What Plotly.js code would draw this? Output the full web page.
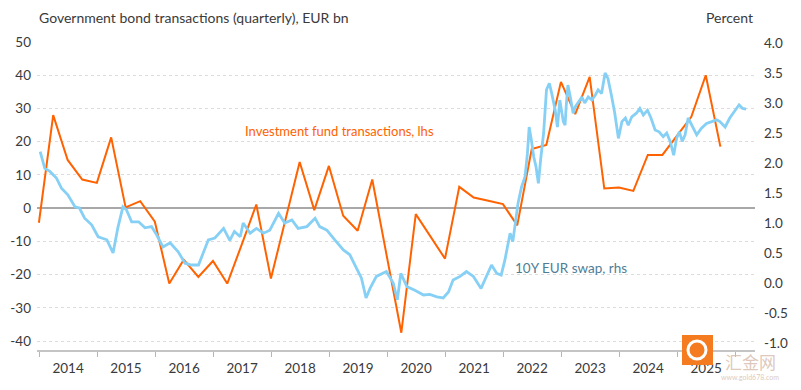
<!DOCTYPE html>
<html>
<head>
<meta charset="utf-8">
<script src="https://cdn.plot.ly/plotly-3.0.1.min.js"></script>
<style>html,body{margin:0;padding:0;background:#fff}#chart{width:801px;height:390px}</style>
</head>
<body>
<div id="chart"></div>
<script>
// Investment fund government bond transactions (quarterly, EUR bn) - lhs
const fundDates = [
  '2013-12-31','2014-03-31','2014-06-30','2014-09-30','2014-12-31','2015-03-31','2015-06-30','2015-09-30',
  '2015-12-31','2016-03-31','2016-06-30','2016-09-30','2016-12-31','2017-03-31','2017-06-30','2017-09-30',
  '2017-12-31','2018-03-31','2018-06-30','2018-09-30','2018-12-31','2019-03-31','2019-06-30','2019-09-30',
  '2019-12-31','2020-03-31','2020-06-30','2020-09-30','2020-12-31','2021-03-31','2021-06-30','2021-09-30',
  '2021-12-31','2022-03-31','2022-06-30','2022-09-30','2022-12-31','2023-03-31','2023-06-30','2023-09-30',
  '2023-12-31','2024-03-31','2024-06-30','2024-09-30','2024-12-31','2025-03-31','2025-06-30','2025-09-30'
];
const fundValues = [
  -4.4, 28.0, 14.5, 8.6, 7.6, 21.3, 0.2, 2.1,
  -4.1, -22.7, -15.5, -20.7, -15.9, -22.7, -11.0, 1.1,
  -21.2, -3.6, 13.9, -0.6, 12.7, -2.3, -6.8, 8.6,
  -14.2, -37.5, -1.8, -8.5, -15.2, 6.4, 3.2, 2.2,
  1.2, -5.2, 17.8, 19.0, 38.0, 28.3, 39.5, 5.9,
  6.2, 5.2, 16.0, 16.0, 21.8, 27.5, 40.0, 18.5
];

// 10Y EUR swap rate (percent) - rhs
const swapDates = [
  '2014-01-08','2014-02-06','2014-03-10','2014-04-20','2014-05-22','2014-07-01','2014-08-15','2014-09-12',
  '2014-10-15','2014-11-28','2015-01-08','2015-03-04','2015-04-12','2015-05-12','2015-06-13','2015-07-05',
  '2015-08-07','2015-09-20','2015-10-30','2015-12-10','2016-01-12','2016-02-20','2016-04-05','2016-05-26',
  '2016-07-08','2016-08-18','2016-10-01','2016-10-30','2016-12-02','2017-01-12','2017-03-08','2017-04-16',
  '2017-05-15','2017-06-21','2017-07-09','2017-08-22','2017-10-01','2017-11-14','2017-12-24','2018-02-17',
  '2018-03-28','2018-05-12','2018-06-20','2018-08-14','2018-10-05','2018-11-03','2018-12-18','2019-02-06',
  '2019-04-01','2019-05-12','2019-06-25','2019-07-24','2019-08-22','2019-09-16','2019-10-26','2019-12-28',
  '2020-02-09','2020-03-06','2020-03-28','2020-05-05','2020-06-24','2020-08-18','2020-09-27','2020-11-10',
  '2020-12-20','2021-01-22','2021-02-20','2021-04-05','2021-05-15','2021-06-28','2021-08-15','2021-09-20',
  '2021-10-20','2021-11-22','2021-12-20','2022-01-12','2022-02-14','2022-03-03','2022-03-14','2022-04-05',
  '2022-04-27','2022-05-19','2022-06-03','2022-06-14','2022-06-28','2022-07-13','2022-07-27','2022-08-11',
  '2022-08-25','2022-09-13','2022-10-01','2022-10-19','2022-11-03','2022-11-25','2022-12-09','2022-12-24',
  '2023-01-15','2023-01-26','2023-02-02','2023-02-13','2023-02-28','2023-03-18','2023-04-01','2023-05-12',
  '2023-05-30','2023-06-21','2023-07-13','2023-08-04','2023-08-22','2023-09-13','2023-10-05','2023-10-23',
  '2023-11-14','2023-12-05','2023-12-28','2024-01-19','2024-02-10','2024-02-28','2024-03-21','2024-04-19',
  '2024-05-11','2024-06-02','2024-06-28','2024-07-20','2024-08-15','2024-09-09','2024-10-05','2024-10-27',
  '2024-11-18','2024-12-10','2024-12-28','2025-01-15','2025-02-02','2025-02-20','2025-03-11','2025-04-01',
  '2025-05-04','2025-06-03','2025-07-05','2025-08-07','2025-09-06','2025-09-27','2025-10-30','2025-11-28',
  '2026-01-26','2026-02-17','2026-03-11'
];
const swapValues = [
  2.19, 1.91, 1.86, 1.75, 1.58, 1.47, 1.27, 1.25,
  1.08, 0.97, 0.77, 0.72, 0.50, 0.92, 1.27, 1.22,
  1.02, 1.02, 0.92, 0.94, 0.80, 0.60, 0.67, 0.52,
  0.33, 0.30, 0.30, 0.50, 0.72, 0.75, 0.91, 0.71,
  0.86, 0.77, 1.00, 0.83, 0.91, 0.83, 0.88, 1.16,
  1.00, 1.05, 0.91, 0.94, 1.08, 0.94, 0.88, 0.72,
  0.55, 0.47, 0.22, 0.08, -0.25, -0.09, 0.11, 0.19,
  0.00, -0.28, 0.16, -0.06, -0.12, -0.20, -0.19, -0.23,
  -0.25, -0.15, 0.05, 0.11, 0.19, 0.11, -0.09, 0.11,
  0.30, 0.16, 0.13, 0.38, 0.83, 0.69, 0.88, 1.33,
  1.60, 1.77, 2.16, 2.60, 2.38, 2.10, 1.94, 1.66,
  2.05, 2.50, 3.22, 3.33, 3.16, 2.88, 2.60, 3.05,
  2.69, 2.63, 2.94, 3.30, 3.10, 2.83, 2.94, 3.10,
  3.00, 3.10, 3.05, 3.13, 3.22, 3.16, 3.50, 3.41,
  3.13, 2.83, 2.41, 2.69, 2.75, 2.63, 2.77, 2.83,
  2.91, 2.80, 2.88, 2.75, 2.55, 2.52, 2.44, 2.50,
  2.36, 2.13, 2.41, 2.52, 2.36, 2.47, 2.75, 2.63,
  2.47, 2.58, 2.66, 2.69, 2.72, 2.69, 2.60, 2.75,
  2.97, 2.91, 2.90
];

const leftTicks = [-40, -30, -20, -10, 0, 10, 20, 30, 40, 50];
const rightTicks = [-1.0, -0.5, 0.0, 0.5, 1.0, 1.5, 2.0, 2.5, 3.0, 3.5, 4.0];

const leftTitle = 'Government bond transactions (quarterly), EUR bn';
const rightTitle = 'Percent';
const fundLabel = 'Investment fund transactions, lhs';
const swapLabel = '10Y EUR swap, rhs';

const FONT = 'Lato, "Open Sans", sans-serif';
const ORANGE = '#FF6200';
const BLUE = '#86D0F5';

const traces = [
  {
    x: swapDates, y: swapValues, yaxis: 'y2', type: 'scatter', mode: 'lines',
    line: {color: BLUE, width: 2.8}, hoverinfo: 'skip', showlegend: false
  },
  {
    x: fundDates, y: fundValues, yaxis: 'y', type: 'scatter', mode: 'lines',
    line: {color: ORANGE, width: 2}, hoverinfo: 'skip', showlegend: false
  }
];

const layout = {
  width: 801, height: 390,
  margin: {l: 37, r: 46, t: 42, b: 40, pad: 0},
  paper_bgcolor: '#ffffff', plot_bgcolor: '#ffffff',
  font: {family: FONT, size: 13, color: '#3a3a3a'},
  showlegend: false,
  xaxis: {
    type: 'date',
    range: ['2013-12-19', '2026-05-06'],
    tick0: '2014-01-01', dtick: 'M12',
    ticklabelmode: 'period',
    tickformat: '%Y',
    ticks: 'outside', ticklen: 5, tickwidth: 1, tickcolor: '#b5b5b5',
    showline: true, linecolor: '#c4c4c4', linewidth: 2,
    showgrid: false, zeroline: false,
    tickfont: {family: FONT, size: 13.5, color: '#3a3a3a'}
  },
  yaxis: {
    range: [-42.7, 50],
    tickvals: leftTicks,
    ticktext: leftTicks.map(String),
    showgrid: true, gridcolor: '#dcdcdc', griddash: 'dot', gridwidth: 1,
    zeroline: true, zerolinecolor: '#a8a8a8', zerolinewidth: 1.5,
    showline: false, ticks: '', ticklabelstandoff: 5,
    tickfont: {family: FONT, size: 13.5, color: '#3a3a3a'}
  },
  yaxis2: {
    overlaying: 'y', side: 'right',
    range: [-1.117, 4.017],
    tickvals: rightTicks,
    ticktext: rightTicks.map(v => v.toFixed(1)),
    showgrid: false, zeroline: false, showline: false, ticks: '', ticklabelstandoff: 8,
    tickfont: {family: FONT, size: 13.5, color: '#3a3a3a'}
  },
  annotations: [
    {text: leftTitle, xref: 'paper', yref: 'paper', x: 0.0, y: (350 - 18) / 308, xanchor: 'left', yanchor: 'middle',
     showarrow: false, font: {family: FONT, size: 14, color: '#3a3a3a'}},
    {text: rightTitle, xref: 'paper', yref: 'paper', x: 1.0, y: (350 - 18) / 308, xanchor: 'right', yanchor: 'middle',
     showarrow: false, font: {family: FONT, size: 14, color: '#3a3a3a'}},
    {text: fundLabel, xref: 'x', yref: 'y', x: '2017-07-08', y: 23.2, xanchor: 'left', yanchor: 'middle',
     showarrow: false, font: {family: FONT, size: 13, color: ORANGE}},
    {text: swapLabel, xref: 'x', yref: 'y', x: '2022-03-03', y: -18.0, xanchor: 'left', yanchor: 'middle',
     showarrow: false, font: {family: FONT, size: 13.5, color: '#4f7d96'}},
    {text: '汇金网', xref: 'paper', yref: 'paper', x: (750 - 37) / 718, y: (350 - 361) / 308, xanchor: 'center', yanchor: 'middle',
     showarrow: false, font: {family: '"Noto Sans CJK SC", sans-serif', size: 17, color: 'rgba(215,190,175,0.85)'}},
    {text: 'www.gold678.com', xref: 'paper', yref: 'paper', x: (750 - 37) / 718, y: (350 - 377) / 308, xanchor: 'center', yanchor: 'middle',
     showarrow: false, font: {family: FONT, size: 7, color: 'rgba(215,190,175,0.85)'}}
  ],
  shapes: [
    {type: 'rect', xref: 'paper', yref: 'paper', layer: 'above',
     x0: (682 - 37) / 718, x1: (713 - 37) / 718, y0: (350 - 365) / 308, y1: (350 - 335) / 308,
     fillcolor: '#F47B20', line: {width: 0}},
    {type: 'circle', xref: 'paper', yref: 'paper', layer: 'above',
     x0: (688 - 37) / 718, x1: (706 - 37) / 718, y0: (350 - 359) / 308, y1: (350 - 341) / 308,
     fillcolor: 'rgba(0,0,0,0)', line: {color: '#ffffff', width: 3}}
  ]
};

Plotly.newPlot('chart', traces, layout, {staticPlot: true, displayModeBar: false});
</script>
</body>
</html>
